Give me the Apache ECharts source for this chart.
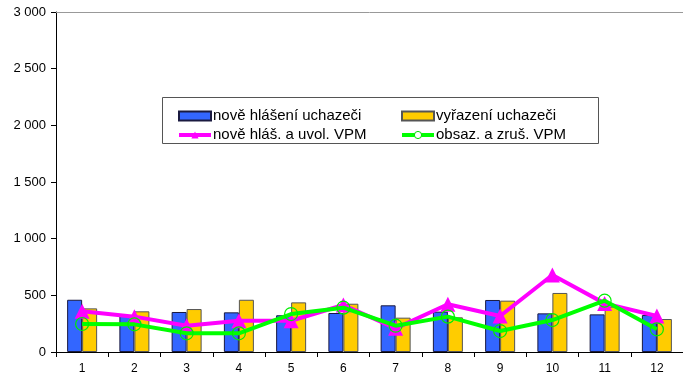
<!DOCTYPE html>
<html>
<head>
<meta charset="utf-8">
<script src="https://cdn.jsdelivr.net/npm/echarts@6/dist/echarts.min.js"></script>
<style>
  html, body { margin: 0; padding: 0; background: #fff; }
  #chart { width: 683px; height: 376px; }
</style>
</head>
<body>
<div id="chart"></div>
<script>
// data
var months = ['1', '2', '3', '4', '5', '6', '7', '8', '9', '10', '11', '12'];
var noveHlaseni = [461, 326, 353, 350, 324, 344, 412, 356, 459, 341, 332, 326];
var vyrazeni = [385, 359, 379, 461, 438, 426, 303, 306, 453, 521, 400, 291];
var noveVPM = [360, 312, 232, 276, 276, 415, 209, 421, 318, 679, 429, 318];
var obsazVPM = [247, 244, 165, 165, 335, 391, 232, 312, 185, 282, 453, 200];

var names = ['nově hlášení uchazeči', 'vyřazení uchazeči', 'nově hláš. a uvol. VPM', 'obsaz. a zruš. VPM'];

var font = 'Liberation Sans, Arial, sans-serif';

function legendCol(bar, line, left) {
    return {
        data: [bar, line],
        orient: 'vertical',
        left: left, top: 108,
        padding: 0,
        itemWidth: 32, itemHeight: 9, itemGap: 3,
        lineStyle: { width: 4 },
        textStyle: { fontSize: 15, lineHeight: 16, color: '#000', fontFamily: font, padding: [0, 0, 0, -3] },
        z: 60
    };
}

var chart = echarts.init(document.getElementById('chart'));
chart.setOption({
    animation: false,
    textStyle: { fontFamily: font },
    grid: { left: 56, top: 12, width: 635, bottom: 24, containLabel: false },
    graphic: [{
        type: 'rect',
        left: 162, top: 97,
        shape: { width: 436, height: 46 },
        style: { fill: '#fff', stroke: '#555', lineWidth: 1 },
        z: 50
    }],
    legend: [
        legendCol({ name: names[0], icon: 'rect' }, { name: names[2] }, 177),
        legendCol({ name: names[1], icon: 'rect' },
            { name: names[3], itemStyle: { color: '#fff', borderColor: '#00DD00', borderWidth: 1 } }, 400)
    ],
    xAxis: [{
        type: 'category',
        data: months,
        axisLine: { lineStyle: { color: '#000', width: 1 } },
        axisTick: { show: true, length: 5, alignWithLabel: false, lineStyle: { color: '#000' } },
        axisLabel: { color: '#000', fontSize: 12, margin: 11, fontFamily: font }
    }, {
        type: 'category',
        data: months,
        position: 'top',
        axisLine: { lineStyle: { color: '#999', width: 1 } },
        axisTick: { show: false },
        axisLabel: { show: false }
    }],
    yAxis: {
        type: 'value',
        min: 0, max: 3000, interval: 500,
        axisLine: { show: true, lineStyle: { color: '#000' } },
        axisTick: { show: true, length: 5, lineStyle: { color: '#000' } },
        splitLine: { show: false },
        axisLabel: {
            color: '#000', fontSize: 13, margin: 10, fontFamily: font,
            formatter: function (v) { return String(v).replace(/\B(?=(\d{3})+(?!\d))/g, ' '); }
        }
    },
    series: [{
        name: names[0],
        type: 'bar',
        data: noveHlaseni,
        barWidth: 15,
        barGap: '0%',
        itemStyle: { color: '#3366FF', borderColor: '#1a1a40', borderWidth: 1 }
    }, {
        name: names[1],
        type: 'bar',
        data: vyrazeni,
        barWidth: 15,
        itemStyle: { color: '#FFCC00', borderColor: '#555', borderWidth: 1 }
    }, {
        name: names[2],
        type: 'line',
        data: noveVPM,
        symbol: 'triangle',
        symbolSize: 15,
        lineStyle: { color: '#FF00FF', width: 4 },
        itemStyle: { color: '#FF00FF' },
        z: 5
    }, {
        name: names[3],
        type: 'line',
        data: obsazVPM,
        symbol: 'circle',
        symbolSize: 13,
        lineStyle: { color: '#00FF00', width: 4 },
        itemStyle: { color: 'rgba(0,0,0,0)', borderColor: '#00EE00', borderWidth: 1.2 },
        z: 6
    }]
});
</script>
</body>
</html>
